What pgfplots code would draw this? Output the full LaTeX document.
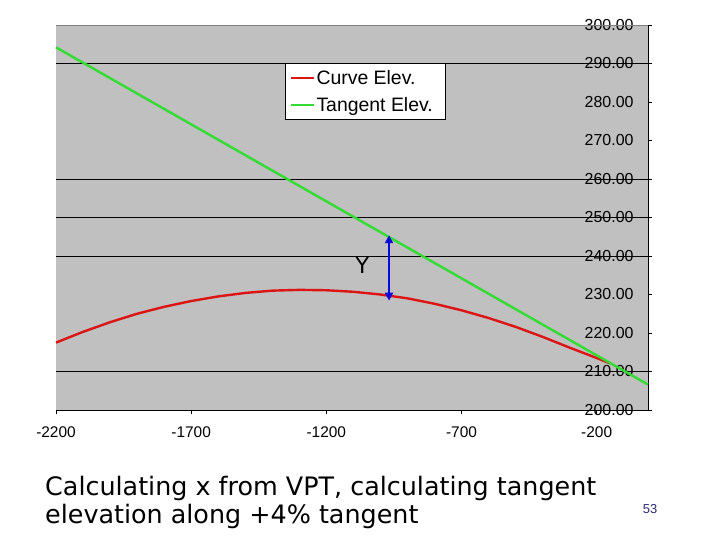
\documentclass[border=0pt]{standalone}
\usepackage{pgfplots}
\pgfplotsset{compat=1.18}
\usepackage{fontspec}
\setmainfont{Liberation Sans}
\newfontfamily\capfont{DejaVu Sans}
\usetikzlibrary{arrows.meta}
\definecolor{plotgray}{RGB}{192,192,192}
\definecolor{bordergray}{RGB}{128,128,128}
\definecolor{curvered}{RGB}{220,20,20}
\definecolor{tangreen}{RGB}{50,220,50}
\definecolor{arrowblue}{RGB}{10,10,220}
\definecolor{pagenum}{RGB}{40,40,120}
\begin{document}
\begin{tikzpicture}[x=1bp,y=1bp]
\useasboundingbox (0,0) rectangle (720,540);
\begin{axis}[
  at={(56bp,130bp)}, anchor=south west,
  width=592bp, height=385bp, scale only axis,
  xmin=-2200, xmax=-10, ymin=200, ymax=300,
  axis x line*=bottom, axis y line*=right,
  axis line style={-, black, line width=0.8bp},
  axis background/.style={fill=plotgray},
  xtick={-2200,-1700,-1200,-700,-200},
  xticklabels={-2200,-1700,-1200,-700,-200},
  ytick={200,210,...,300},
  yticklabels={200.00,210.00,220.00,230.00,240.00,250.00,260.00,270.00,280.00,290.00,300.00},
  tick align=outside, major tick length=4bp,
  tick style={black, line width=0.8bp},
  xticklabel style={font=\fontsize{15.5}{15.5}\selectfont, yshift=-9bp},
  yticklabel pos=right,
  yticklabel style={font=\fontsize{16}{16}\selectfont, anchor=east, xshift=-15bp},
  extra y ticks={210,240,250,260,290},
  extra y tick labels={},
  extra y tick style={grid=major, major grid style={black, line width=0.8bp}},
  legend style={at={(0.387,0.901)}, anchor=north west, draw=black, line width=0.8bp,
    fill=white, font=\fontsize{19.5}{22}\selectfont, inner xsep=4bp, inner ysep=6bp,
    row sep=9bp, nodes={inner xsep=2bp, inner ysep=1bp}},
  legend cell align=left,
  legend image code/.code={\draw[#1, line width=2bp] (0bp,0bp) -- (23bp,0bp);},
  clip=false,
]
\addplot[curvered, line width=2.4bp] coordinates {
(-2200,217.5) (-2100,220.3) (-2000,222.8) (-1900,225.0) (-1800,226.8)
(-1700,228.3) (-1600,229.5) (-1500,230.4) (-1400,231.0) (-1300,231.2)
(-1200,231.1) (-1100,230.7) (-1000,230.0) (-900,229.0) (-800,227.6)
(-700,225.9) (-600,223.9) (-500,221.6) (-400,219.0) (-300,216.2)
(-200,213.5) (-150,212.1)};
\addplot[tangreen, line width=2.4bp] coordinates {(-2200,294.2) (-10,206.6)};
\legend{Curve Elev., Tangent Elev.\kern7bp}
\addplot[arrowblue, line width=2.5bp, {Triangle[length=8bp,width=8bp]}-{Triangle[length=8bp,width=8bp]}, forget plot] coordinates {(-968,228.4) (-968,245.4)};
\draw[bordergray, line width=0.8bp] (rel axis cs:0,1) -- (rel axis cs:1,1);
\node[font=\capfont\fontsize{22}{22}\selectfont] at (axis cs:-1067,237.4) {Y};
\end{axis}
\node[anchor=base west, inner sep=0pt, font=\capfont\fontsize{25.5}{30}\selectfont] at (45,44) {Calculating x from VPT, calculating tangent};
\node[anchor=base west, inner sep=0pt, font=\capfont\fontsize{25.5}{30}\selectfont] at (45,16) {elevation along +4\% tangent};
\node[font=\fontsize{13}{13}\selectfont, text=pagenum] at (650,31) {53};
\end{tikzpicture}
\end{document}
